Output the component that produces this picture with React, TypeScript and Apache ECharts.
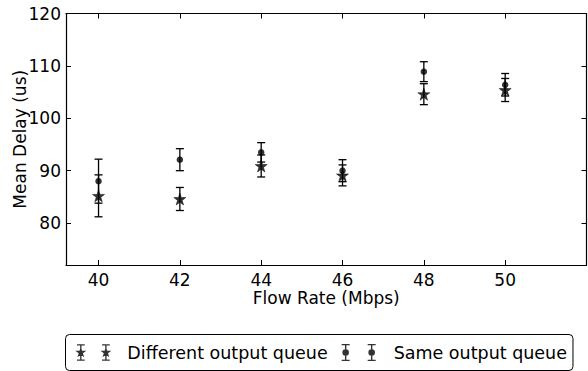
import React, { useEffect, useRef } from "react";
import * as echarts from "echarts";

const flowRates = [40, 42, 44, 46, 48, 50];
const diffMean = [85.2, 84.6, 90.9, 89.1, 104.6, 105.4];
const diffErr = [4.0, 2.2, 2.1, 2.0, 2.0, 2.2];
const sameMean = [88.0, 92.1, 93.5, 90.0, 108.9, 106.4];
const sameErr = [4.2, 2.1, 1.85, 2.1, 1.9, 2.15];

const FONT = "DejaVu Sans";
const STAR =
  "M50,0 L61.2,34.5 L97.6,34.5 L68.2,55.9 L79.4,90.5 L50,69.1 L20.6,90.5 L31.8,55.9 L2.4,34.5 L38.8,34.5 Z";

function starAt(cx: number, cy: number, s: number) {
  const pts = [
    [50, 0], [61.2, 34.5], [97.6, 34.5], [68.2, 55.9], [79.4, 90.5],
    [50, 69.1], [20.6, 90.5], [31.8, 55.9], [2.4, 34.5], [38.8, 34.5],
  ];
  const k = s / 100;
  return (
    pts
      .map((p, i) => `${i === 0 ? "M" : "L"}${(cx + (p[0] - 50) * k).toFixed(1)},${(cy + (p[1] - 50) * k).toFixed(1)}`)
      .join(" ") + " Z"
  );
}
function circleAt(cx: number, cy: number, r: number) {
  return `M${cx - r},${cy} A${r},${r} 0 1 1 ${cx + r},${cy} A${r},${r} 0 1 1 ${cx - r},${cy} Z`;
}
function barGlyph(cx: number, marker: string) {
  const w = 7;
  return [
    `M${cx - w},0 H${cx + w} V170 H${cx - w} Z`,
    `M${cx - 40},0 H${cx + 40} V13 H${cx - 40} Z`,
    `M${cx - 40},157 H${cx + 40} V170 H${cx - 40} Z`,
    marker,
  ].join(" ");
}
const legendStar =
  "path://" +
  barGlyph(40, starAt(40, 85, 120)) +
  " " +
  barGlyph(300, starAt(300, 85, 120)) +
  " M470,85 L470.01,85 L470,85.01 Z";
const legendCircle =
  "path://" +
  barGlyph(40, circleAt(40, 85, 33)) +
  " " +
  barGlyph(300, circleAt(300, 85, 33)) +
  " M470,85 L470.01,85 L470,85.01 Z";

function errData(means: number[], errs: number[]) {
  return flowRates.map((x, i) => [x, means[i], errs[i]]);
}

function renderErr(params: any, api: any) {
  const x = api.value(0);
  const y = api.value(1);
  const e = api.value(2);
  const top = api.coord([x, y + e]);
  const bot = api.coord([x, y - e]);
  const hw = 4;
  const style = { stroke: "#000", lineWidth: 1.3 };
  return {
    type: "group",
    children: [
      { type: "line", shape: { x1: top[0], y1: top[1], x2: bot[0], y2: bot[1] }, style },
      { type: "line", shape: { x1: top[0] - hw, y1: top[1], x2: top[0] + hw, y2: top[1] }, style },
      { type: "line", shape: { x1: bot[0] - hw, y1: bot[1], x2: bot[0] + hw, y2: bot[1] }, style },
    ],
  };
}

export default function App() {
  const ref = useRef<HTMLDivElement>(null);
  useEffect(() => {
    if (!ref.current) return;
    const chart = echarts.init(ref.current, null, { renderer: "svg" });
    const axisLine = { show: true, lineStyle: { color: "#000", width: 1.2 } };
    const tick = { show: true, inside: true, length: 5, lineStyle: { color: "#000", width: 1 } };
    const xBase = { type: "value", min: 39.2, max: 52, splitNumber: 6, splitLine: { show: false }, axisLine, axisTick: tick };
    const yBase = { type: "value", min: 72, max: 120, splitNumber: 5, splitLine: { show: false }, axisLine, axisTick: tick };
    chart.setOption({
      animation: false,
      backgroundColor: "#fff",
      textStyle: { fontFamily: FONT },
      grid: { left: 66, right: 1.5, top: 13.5, bottom: 106, containLabel: false, outerBoundsMode: "none" },
      xAxis: [
        {
          ...xBase,
          position: "bottom",
          name: "Flow Rate (Mbps)",
          nameLocation: "middle",
          nameGap: 24.5,
          nameMoveOverlap: false,
          nameTextStyle: { color: "#000", fontSize: 17, lineHeight: 17, fontFamily: FONT },
          axisLabel: {
            color: "#000",
            fontSize: 17,
            lineHeight: 17,
            fontFamily: FONT,
            margin: 6,
            showMinLabel: false,
            showMaxLabel: false,
            formatter: (v: number) => (v >= 40 && v <= 50 && Math.abs(v - Math.round(v)) < 1e-6 ? String(Math.round(v)) : ""),
          },
        },
        { ...xBase, position: "top", axisLabel: { show: false } },
      ],
      yAxis: [
        {
          ...yBase,
          position: "left",
          name: "Mean Delay (us)",
          nameLocation: "middle",
          nameRotate: 90,
          nameGap: 38,
          nameMoveOverlap: false,
          nameTextStyle: { color: "#000", fontSize: 17, fontFamily: FONT },
          axisLabel: {
            color: "#000",
            fontSize: 17,
            fontFamily: FONT,
            margin: 5,
            formatter: (v: number) => (Math.round(v) % 10 === 0 ? String(Math.round(v)) : ""),
          },
        },
        { ...yBase, position: "right", axisLabel: { show: false } },
      ],
      legend: {
        left: 65.5,
        top: 334.5,
        orient: "horizontal",
        padding: [9, 6, 9, 9.8],
        itemGap: 14,
        itemWidth: 47,
        itemHeight: 17,
        borderColor: "#000",
        borderWidth: 1,
        borderRadius: 4,
        itemStyle: { borderWidth: 0 },
        textStyle: { color: "#000", fontSize: 17.5, fontFamily: FONT, padding: 0 },
        data: [
          { name: "Different output queue", icon: legendStar },
          { name: "Same output queue", icon: legendCircle },
        ],
      },
      series: [
        {
          type: "custom",
          name: "diffErr",
          renderItem: renderErr,
          data: errData(diffMean, diffErr),
          encode: { x: 0, y: 1 },
          z: 2,
        },
        {
          type: "custom",
          name: "sameErr",
          renderItem: renderErr,
          data: errData(sameMean, sameErr),
          encode: { x: 0, y: 1 },
          z: 2,
        },
        {
          type: "scatter",
          name: "Different output queue",
          symbol: "path://" + STAR,
          symbolSize: 12,
          itemStyle: { color: "#000", borderColor: "#000", borderWidth: 0.6 },
          data: flowRates.map((x, i) => [x, diffMean[i]]),
          z: 3,
        },
        {
          type: "scatter",
          name: "Same output queue",
          symbol: "circle",
          symbolSize: 6.5,
          itemStyle: { color: "#000" },
          data: flowRates.map((x, i) => [x, sameMean[i]]),
          z: 3,
        },
      ],
    });
    return () => chart.dispose();
  }, []);
  return (
    <div
      ref={ref}
      style={{ position: "fixed", left: 0, top: 0, width: 588, height: 371, background: "#fff" }}
    />
  );
}
